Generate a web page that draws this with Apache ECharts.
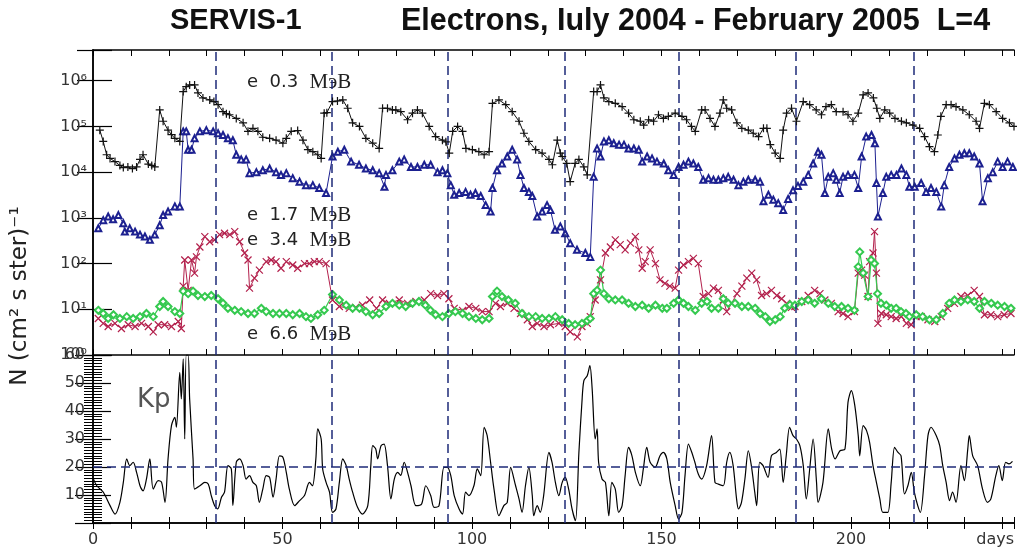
<!DOCTYPE html>
<html><head><meta charset="utf-8">
<script src="https://cdn.jsdelivr.net/npm/echarts/dist/echarts.min.js"></script>
<style>html,body{margin:0;padding:0;background:#fff}#c{width:1017px;height:550px}</style>
</head><body><div id="c"></div>
<script>
// ---- data (day, value) ----
const e03 = [[1.8,8.3e4],[2.7,4.7e4],[3.6,2.4e4],[4.5,2.0e4],[5.8,1.7e4],[7.1,1.4e4],[8.0,1.26e4],[9.2,1.3e4],[10.4,1.2e4],[11.5,1.3e4],[12.4,1.9e4],[13.2,2.4e4],[14.6,1.5e4],[15.5,1.4e4],[16.3,1.3e4],[17.6,2.3e5],[18.5,1.3e5],[19.8,8.3e4],[20.7,6.6e4],[21.6,5.5e4],[22.9,4.7e4],[23.8,5.8e5],[24.6,7.4e5],[25.5,8.1e5],[26.8,8.1e5],[27.7,5.4e5],[29.0,4.2e5],[30.8,3.8e5],[31.9,3.5e5],[33.0,3.0e5],[34.3,2.1e5],[35.2,1.9e5],[36.0,1.8e5],[37.8,1.5e5],[39.6,1.2e5],[40.9,7.8e4],[42.2,9.1e4],[43.5,7.8e4],[44.8,5.8e4],[46.6,5.5e4],[48.3,5.0e4],[50.1,4.3e4],[51.0,5.5e4],[52.3,7.8e4],[54.0,8.1e4],[55.4,5.0e4],[56.7,3.1e4],[58.0,2.8e4],[59.3,2.4e4],[60.2,2.0e4],[61.0,1.95e5],[61.7,2.0e5],[63.2,3.5e5],[64.5,3.6e5],[65.9,3.8e5],[67.2,2.5e5],[68.5,1.2e5],[70.3,1.0e5],[72.0,5.5e4],[73.8,4.3e4],[75.5,3.3e4],[76.4,2.5e5],[77.7,2.5e5],[79.0,2.3e5],[79.9,2.3e5],[81.2,2.1e5],[83.0,1.4e5],[84.3,1.95e5],[85.6,2.3e5],[86.9,1.95e5],[88.7,1.0e5],[90.4,6.0e4],[92.2,5.0e4],[93.1,4.6e4],[94.0,2.6e4],[94.9,7.8e4],[96.2,1.0e5],[97.5,7.8e4],[98.4,3.3e4],[100.1,3.1e4],[101.8,2.8e4],[103.2,2.4e4],[104.5,2.8e4],[105.4,3.2e5],[107.1,3.8e5],[108.9,3.0e5],[110.6,2.1e5],[112.4,1.3e5],[113.7,7.1e4],[115.0,4.7e4],[116.8,3.1e4],[118.5,2.6e4],[120.3,1.9e4],[121.2,1.45e4],[122.5,5.0e4],[123.3,2.6e4],[123.8,2.2e4],[125.0,1.55e4],[125.9,6.2e3],[127.2,1.55e4],[128.2,1.9e4],[129.5,1.3e4],[130.4,8.7e3],[132.1,5.8e5],[133.0,5.8e5],[133.9,8.1e5],[134.8,4.2e5],[136.1,3.5e5],[137.8,3.2e5],[139.6,2.7e5],[141.3,1.95e5],[142.7,1.4e5],[144.4,1.3e5],[145.3,1.07e5],[146.6,1.4e5],[147.9,1.3e5],[149.2,1.8e5],[150.5,1.5e5],[151.8,1.66e5],[153.6,1.95e5],[155.4,1.66e5],[156.6,1.4e5],[157.9,1.0e5],[158.9,7.8e4],[160.6,2.3e5],[161.5,2.3e5],[162.8,1.5e5],[164.1,1.0e5],[165.4,1.95e5],[166.3,3.8e5],[167.2,2.5e5],[168.5,2.3e5],[169.9,1.2e5],[171.2,9.1e4],[172.9,8.3e4],[174.2,7.1e4],[175.6,6.0e4],[176.9,9.1e4],[177.8,9.1e4],[178.7,4.0e4],[180.0,2.6e4],[181.3,2.0e4],[182.1,8.3e4],[183.0,1.95e5],[184.3,2.5e5],[185.6,1.3e5],[187.4,3.5e5],[189.1,3.0e5],[190.8,2.3e5],[192.2,1.8e5],[193.4,2.7e5],[194.8,3.0e5],[196.1,2.1e5],[197.9,2.1e5],[199.2,1.8e5],[200.5,1.3e5],[201.9,1.95e5],[203.2,4.9e5],[204.5,5.4e5],[205.9,4.2e5],[206.8,2.5e5],[207.6,1.5e5],[208.9,2.3e5],[210.2,1.95e5],[211.6,1.5e5],[213.3,1.3e5],[214.6,1.2e5],[216.3,1.07e5],[218.1,9.1e4],[219.4,6.0e4],[220.7,3.6e4],[222.0,2.8e4],[222.9,6.5e4],[223.7,1.66e5],[225.1,3.0e5],[226.4,3.0e5],[227.7,2.7e5],[229.5,2.3e5],[231.2,1.8e5],[233.0,1.3e5],[233.9,9.1e4],[235.2,3.2e5],[236.5,3.0e5],[238.3,2.1e5],[240.0,1.5e5],[241.8,1.2e5],[243.0,1.0e5]];

const e17 = [[1.4,590],[2.7,890],[4.0,1070],[5.3,930],[6.7,1150],[8.0,760],[8.4,500],[9.7,590],[11.1,500],[12.4,430],[13.7,390],[15.0,330],[16.3,430],[17.6,690],[18.5,1150],[19.8,1380],[21.6,1780],[22.9,1780],[23.8,7.8e4],[24.6,7.8e4],[25.1,3.1e4],[26.0,3.1e4],[26.8,5.5e4],[28.2,7.8e4],[29.9,8.3e4],[31.7,7.8e4],[33.0,7.1e4],[34.3,6.5e4],[35.6,5.5e4],[36.9,5.0e4],[37.8,2.4e4],[39.1,1.9e4],[40.4,1.9e4],[41.3,9500],[43.1,1.0e4],[44.8,1.1e4],[46.6,1.2e4],[48.3,1.0e4],[49.6,8700],[51.0,9500],[52.7,7400],[54.5,6200],[56.2,5200],[58.0,5200],[59.7,4500],[61.5,3500],[63.2,2.2e4],[64.6,2.8e4],[66.3,3.1e4],[68.1,1.7e4],[70.2,1.45e4],[72.0,1.2e4],[73.8,1.1e4],[75.5,9500],[76.9,4800],[77.3,8700],[79.0,1.1e4],[80.8,1.7e4],[82.1,1.9e4],[83.9,1.3e4],[85.6,1.3e4],[87.4,1.45e4],[89.1,1.45e4],[90.9,1.0e4],[92.2,1.1e4],[93.5,9500],[94.4,5200],[95.3,3200],[96.6,3500],[98.3,3700],[99.6,3200],[100.9,3500],[102.3,3000],[103.6,1900],[104.9,1380],[105.4,4500],[106.6,1.1e4],[107.9,1.55e4],[109.3,2.2e4],[110.6,3.1e4],[111.9,1.9e4],[112.8,8700],[113.7,4500],[115.0,3700],[115.9,3000],[117.2,1070],[118.5,1380],[119.8,1900],[120.7,1480],[121.9,550],[123.3,650],[124.6,460],[125.9,280],[127.7,200],[129.9,170],[131.2,140],[132.1,7900],[133.0,3.3e4],[133.9,2.2e4],[134.8,4.7e4],[136.1,5.0e4],[137.4,4.3e4],[138.8,4.0e4],[140.1,4.0e4],[141.3,3.3e4],[142.7,3.3e4],[144.0,3.1e4],[144.9,1.7e4],[146.2,2.2e4],[147.5,2.0e4],[148.8,1.7e4],[150.6,1.55e4],[151.8,1.1e4],[153.2,8700],[154.5,1.3e4],[155.8,1.45e4],[157.1,1.7e4],[158.4,1.55e4],[159.7,1.3e4],[161.0,6800],[162.4,7400],[163.7,6800],[165.0,6800],[166.3,7400],[167.6,7900],[169.0,6800],[170.3,5200],[171.6,6200],[172.9,6800],[174.7,6800],[176.0,6200],[176.9,2300],[178.2,3200],[179.5,2500],[180.8,2100],[182.1,1480],[183.4,2600],[184.7,4000],[186.0,5000],[187.4,6200],[188.7,8700],[190.0,1.55e4],[191.3,2.8e4],[192.2,2.4e4],[193.1,3500],[194.0,7900],[195.3,9500],[196.1,6800],[197.0,3500],[197.9,7900],[199.2,8700],[200.9,8700],[201.9,4500],[202.8,2.2e4],[204.0,6.0e4],[205.4,6.5e4],[206.3,4.3e4],[206.7,5800],[207.1,1070],[208.4,3500],[209.3,7900],[210.6,8700],[212.0,8700],[213.3,1.2e4],[214.6,8700],[215.4,4800],[216.8,4800],[218.5,5800],[219.8,3700],[221.1,4500],[222.5,3700],[223.8,1780],[224.6,5200],[225.9,1.3e4],[227.3,2.0e4],[228.6,2.4e4],[229.9,2.6e4],[231.2,2.6e4],[232.5,2.2e4],[233.9,1.55e4],[234.7,2300],[236.1,7400],[237.4,1.0e4],[238.7,1.7e4],[240.0,1.3e4],[241.3,1.7e4],[242.7,1.3e4]];

const e34 = [[1.4,6.3],[2.7,4.9],[4.0,4.2],[5.8,4.9],[7.5,3.8],[9.3,4.6],[11.1,4.2],[12.8,4.9],[14.6,4.2],[15.9,3.2],[17.2,4.6],[18.9,4.6],[20.7,4.2],[22.5,5.4],[23.3,3.8],[23.8,32],[24.2,120],[25.1,26],[26.0,120],[26.8,62],[27.3,140],[28.2,230],[29.5,390],[30.8,300],[32.1,330],[33.4,430],[34.7,460],[36.1,430],[37.4,500],[38.7,300],[40.0,170],[40.9,120],[41.3,29],[42.6,48],[43.9,72],[45.7,110],[47.0,120],[48.3,110],[49.6,79],[51.0,110],[52.7,93],[54.0,79],[55.8,100],[57.1,100],[58.4,110],[59.7,110],[61.5,100],[63.2,16],[65.0,11.5],[67.6,10.5],[69.3,11],[71.1,12.3],[73.0,16],[74.8,10.5],[76.4,16],[78.2,13.5],[80.8,16],[83.0,13.5],[85.2,14.8],[87.4,16],[89.1,22],[90.9,20],[92.6,22],[93.9,17],[95.3,10.5],[97.5,9.5],[99.2,11.5],[101.0,10.5],[102.7,8.9],[104.5,8.9],[106.2,13.5],[107.5,11.5],[109.3,13.5],[111.1,10.5],[112.8,8.1],[114.6,5.9],[115.9,4.2],[117.2,4.9],[119.0,4.2],[120.7,4.6],[122.9,4.9],[124.6,4.2],[125.9,3.2],[127.8,2.5],[129.0,4.2],[130.4,4.9],[131.2,6.9],[132.5,16],[133.9,44],[135.2,170],[136.5,230],[137.8,330],[139.1,260],[140.4,200],[141.8,280],[143.1,390],[144.0,200],[144.9,79],[145.7,110],[147.0,200],[148.4,100],[149.6,44],[150.9,37],[152.2,32],[153.6,29],[154.5,72],[155.8,93],[157.1,110],[158.4,130],[159.7,100],[161.0,19],[162.4,22],[163.7,29],[165.0,26],[166.3,16],[167.2,8.9],[168.5,13.5],[169.9,22],[171.2,32],[172.5,48],[173.8,62],[175.1,44],[176.4,20],[177.7,22],[179.0,26],[180.4,20],[181.7,17],[183.0,13.5],[184.3,11],[185.2,11.5],[187.0,14.8],[188.7,20],[190.4,26],[191.8,22],[193.1,16],[194.8,13.5],[196.6,8.9],[197.9,8.1],[199.2,6.9],[200.9,8.9],[201.9,62],[202.8,72],[203.6,56],[204.5,19],[204.9,110],[205.8,170],[206.2,500],[206.7,62],[207.1,4.9],[208.0,8.1],[209.3,7.6],[210.6,6.9],[211.9,6.3],[213.3,6.9],[214.6,4.9],[215.9,4.6],[217.2,6.9],[218.5,6.9],[220.3,5.9],[222.1,5.4],[223.8,6.9],[225.5,10.5],[227.3,13.5],[229.0,19],[230.8,20],[232.5,26],[233.9,19],[235.2,7.6],[236.9,7.6],[238.7,6.9],[240.4,7.6],[242.2,8.1]];

const e66 = [[1.4,9.5],[2.7,8.1],[4.0,6.3],[5.4,7.6],[7.1,6.3],[8.9,6.9],[10.6,6.3],[12.4,6.9],[14.1,8.1],[15.9,6.9],[17.6,11.5],[18.5,14.8],[19.8,11.5],[21.6,8.9],[22.9,8.1],[23.8,25],[25.1,22],[26.4,25],[27.7,20],[29.5,19],[31.2,20],[33.0,17],[34.3,13.5],[35.6,10.5],[37.4,9.5],[39.1,8.9],[40.9,8.1],[42.6,8.1],[44.4,10.5],[45.7,8.9],[47.5,8.1],[49.2,8.1],[51.0,8.1],[52.7,7.6],[54.5,8.1],[56.2,6.9],[57.5,6.3],[59.3,7.6],[61.0,9.5],[63.2,21],[65.0,16],[66.8,12.3],[68.5,10.5],[70.3,10.5],[72.0,8.9],[73.8,7.6],[75.5,8.1],[77.3,11.5],[79.0,13.5],[80.8,12.3],[82.5,11.5],[84.3,13.5],[86.0,14.8],[87.7,12.3],[89.0,9.5],[90.4,7.6],[92.2,6.9],[93.9,8.1],[95.6,8.9],[97.5,8.1],[99.2,6.9],[101.0,6.3],[102.7,5.9],[104.5,6.3],[105.4,19],[106.6,25],[107.9,19],[109.6,16],[111.4,13.5],[113.2,8.1],[115.0,6.9],[116.8,6.9],[118.5,6.3],[120.3,6.3],[122.0,6.9],[123.8,5.9],[125.5,4.9],[127.2,4.6],[129.0,4.9],[130.4,5.6],[131.2,6.3],[132.1,22],[133.0,26],[133.9,72],[134.8,22],[136.1,17],[137.8,16],[139.6,16],[141.3,13.5],[143.1,11.5],[144.9,12.3],[146.6,10.5],[148.4,12.3],[150.2,10.5],[151.4,10.5],[153.2,13.5],[154.5,16],[155.8,13.5],[157.1,11.5],[158.9,9.5],[160.6,13.5],[162.0,14.8],[163.2,10.5],[165.0,10.5],[166.3,17],[167.6,13.5],[169.4,13.5],[171.2,11.5],[172.9,11.5],[174.7,10.5],[176.0,8.1],[177.4,6.9],[178.6,5.4],[180.0,5.9],[181.3,6.9],[182.5,10.5],[183.9,12.6],[185.2,12.3],[187.0,14.8],[188.7,16],[190.4,13.5],[192.2,17],[194.0,13.5],[195.7,11.5],[197.5,11.5],[199.2,10.5],[200.9,9.5],[201.9,85],[202.3,180],[203.2,62],[204.5,19],[205.3,120],[206.2,100],[207.0,22],[207.9,13.5],[209.3,12.3],[210.6,10.5],[211.9,10.5],[213.2,8.9],[214.5,8.1],[215.4,6.9],[217.2,7.6],[218.9,6.9],[220.7,5.9],[222.5,5.9],[224.2,8.1],[225.9,13.5],[227.3,16],[229.0,14.8],[230.8,16],[232.5,14.8],[233.9,10.5],[235.2,14.8],[237.0,13.5],[238.7,12.3],[240.5,11.5],[242.2,10.5]];

const kp = [[0.1,15.7],[1.0,13.3],[2.7,11],[4.5,6.2],[5.8,3.2],[7.1,7.4],[8.0,14.5],[8.9,22.9],[9.7,20.5],[10.6,21.7],[11.5,18.1],[12.4,13.3],[13.2,11.5],[14.1,15.7],[15.0,22.9],[15.9,12.1],[17.2,15.1],[18.1,14.5],[19.0,7.4],[19.8,22.9],[20.7,34.8],[21.6,37.7],[22.0,34.2],[22.9,53.8],[23.3,44.3],[23.8,58.6],[24.2,30],[24.6,60],[25.1,60],[25.5,44.3],[26.4,22.9],[26.8,12.1],[28.2,13.3],[29.5,14.5],[30.4,13.9],[31.2,9.8],[32.1,6.2],[32.9,5],[33.9,9.2],[34.7,11],[35.6,20.5],[36.5,19.3],[36.9,6.2],[37.8,21.7],[38.7,22.9],[39.6,20.5],[40.4,15.7],[41.3,16.9],[42.2,14.5],[43.1,13.3],[43.9,7.4],[44.8,12.1],[45.7,16.9],[46.6,16.3],[47.5,9.2],[48.3,15.7],[49.2,24],[50.1,23.5],[51.0,18.1],[51.8,12.1],[53.2,6.2],[54.5,8],[55.8,9.8],[57.1,14.5],[57.9,13.3],[58.8,22.9],[59.3,33.6],[60.2,30],[60.6,19.3],[61.5,14.5],[62.4,11],[63.2,3.8],[64.1,5],[65.0,14.5],[65.9,22.9],[66.8,20.5],[67.6,15.7],[68.5,11],[69.8,5.6],[71.1,3.2],[72.5,6.2],[73.3,20.5],[73.8,27.6],[74.6,26.4],[75.1,22.9],[76.0,27.6],[76.8,28.2],[77.7,20.5],[78.6,8.6],[79.5,15.7],[80.4,18.1],[81.2,17],[82.1,21.7],[83.0,18.1],[83.9,13.3],[85.2,6.2],[86.7,6.8],[87.8,13.3],[89.1,9.8],[90.0,5.6],[91.3,6.2],[92.6,19.9],[93.5,19.9],[94.4,16.9],[95.3,9.8],[96.6,5],[97.5,3.2],[98.3,11],[99.2,9.8],[100.5,13.3],[101.4,19.3],[102.3,16.9],[103.2,34.2],[104.0,31.2],[104.9,21.7],[105.8,12.1],[107.1,2.6],[108.4,6.2],[109.3,7.4],[110.2,19.9],[111.5,13.3],[112.4,8.6],[113.2,3.8],[114.1,13.3],[115.0,19.9],[115.9,9.8],[116.3,2.6],[117.2,6.2],[118.0,3.8],[118.9,9.8],[120.3,25.2],[121.1,21.7],[122.0,14.5],[122.9,9.8],[123.8,14.5],[124.6,16.3],[125.5,12.1],[126.4,5],[127.3,0.8],[128.2,25.2],[129.0,43.1],[129.5,50.8],[130.4,52.6],[131.1,56.2],[131.7,47.9],[132.5,30],[133.0,33.6],[133.4,21.7],[134.3,15.7],[135.2,14.5],[136.1,2.6],[136.9,14.5],[137.8,12.1],[138.7,3.8],[139.6,6.2],[140.4,16.9],[141.3,27],[142.2,24],[143.1,18.1],[144.4,13.3],[145.2,19.3],[146.1,27],[147.0,21.7],[148.3,19.9],[149.6,24],[150.5,25.2],[151.4,22.9],[152.3,14.5],[153.6,6.2],[154.5,1.4],[155.4,3.8],[156.2,16.9],[157.1,28.2],[158.0,25.2],[158.8,21.7],[159.7,17.5],[160.6,15.7],[161.9,20.5],[163.2,31.2],[164.1,14.5],[165.0,13.9],[166.3,13.3],[167.2,21.7],[168.0,25.2],[168.9,20.5],[169.8,8.6],[170.3,5],[171.1,7.4],[172.0,15.7],[172.9,25.8],[173.7,20.5],[174.6,11],[175.1,6.2],[175.9,21.7],[176.8,20.5],[178.1,16.3],[179.0,24],[180.3,25.2],[181.2,26.4],[182.1,14.5],[182.9,24],[183.8,34.2],[184.7,31.2],[185.6,30],[186.5,27.6],[187.4,20.5],[188.2,8.6],[189.1,19.3],[190.0,30],[190.9,14.5],[191.3,7.4],[192.6,14.5],[194.0,33.6],[194.9,26.4],[195.8,22.9],[197.1,25.8],[198.4,26.4],[199.2,43.1],[200.1,47.3],[201.0,41.9],[201.9,31.2],[202.3,24],[203.2,34.8],[204.1,33],[204.9,28.8],[205.8,20.5],[206.7,14.5],[207.6,8.6],[208.4,3.8],[209.7,3.8],[210.6,14.5],[211.5,27],[212.4,25.2],[213.2,24],[214.1,10.4],[215.0,13.3],[215.9,18.1],[216.7,11],[217.6,6.2],[218.3,3.8],[219.4,16.9],[220.3,31.2],[221.1,34.2],[222.5,31.2],[223.4,27.6],[224.2,20.5],[225.1,14.5],[226.0,8],[226.8,11],[227.7,7.4],[229.0,20.5],[229.9,15.1],[230.8,26.4],[231.2,31.2],[232.1,24],[233.4,20.5],[234.7,12.1],[236.0,7.4],[236.9,8.6],[238.2,16.9],[239.0,20.5],[239.9,15.1],[240.8,21.7],[241.7,21.1],[242.6,22]];

const monthBoundaries = [32.5, 63, 93.5, 124.5, 154.5, 185.5, 216.5];
const kpLevel = 20;
const xLabelDays = [0, 50, 100, 150, 200];
const kpTickLabels = [10, 20, 30, 40, 50, 60];
const supDigits = ['⁰','¹','²','³','⁴','⁵','⁶','⁷'];

const chart = echarts.init(document.getElementById('c'), null, {renderer: 'canvas'});
const LBL = {color: '#333', fontFamily: 'DejaVu Sans', fontSize: 16};
const frame = {show: true, lineStyle: {color: '#000', width: 1.5}};
const dash = {type: [9, 5], color: '#1e2a78', width: 1.5};

function xAx(grid, pos, labels) {
  return {
    type: 'value', gridIndex: grid, position: pos, min: 0, max: 243, interval: 10,
    axisLine: frame, splitLine: {show: false},
    axisTick: {show: true, inside: true, length: 6, lineStyle: {color: '#000', width: 1}},
    axisLabel: labels ? Object.assign({show: true, margin: 9,
      formatter: v => xLabelDays.indexOf(v) >= 0 ? String(v) : ''}, LBL) : {show: false}
  };
}
function logAx(pos, labels) {
  return {
    type: 'log', logBase: 10, gridIndex: 0, position: pos, min: 1, max: 4.7e6,
    axisLine: frame, splitLine: {show: false}, minorTick: {show: false},
    axisTick: {show: true, inside: true, length: pos === 'left' ? 19 : 16, lineStyle: {color: '#000', width: 1.2}},
    axisLabel: labels ? Object.assign({show: true, margin: 6, formatter: v => {
      const l = Math.log10(v), n = Math.round(l);
      if (Math.abs(l - n) > 0.01) return '';
      return '10' + supDigits[n];
    }}, LBL) : {show: false}
  };
}
function kpAx(pos, labels) {
  return {
    type: 'value', gridIndex: 1, position: pos, min: 0, max: 60, interval: 10,
    axisLine: frame, splitLine: {show: false},
    axisTick: {show: true, inside: true, length: 18, lineStyle: {color: '#000', width: 1.2}},
    minorTick: {show: true, splitNumber: 10, length: 9, lineStyle: {color: '#000', width: 1}},
    minorSplitLine: {show: false},
    axisLabel: labels ? Object.assign({show: true, margin: 8,
      formatter: v => kpTickLabels.indexOf(v) >= 0 ? String(v) : ''}, LBL) : {show: false}
  };
}
function pathSym(d) { return 'path://' + d; }

const mlV = {silent: true, symbol: 'none', label: {show: false}, lineStyle: dash, animation: false,
  data: monthBoundaries.map(d => ({xAxis: d}))};
const richLbl = {a: {fontFamily: 'DejaVu Sans', fontSize: 18, fill: '#222'}, m: {fontFamily: 'Liberation Serif', fontSize: 21, fill: '#222'}};

const option = {
  animation: false,
  backgroundColor: '#fff',
  grid: [
    {left: 93, right: 3, top: 50, height: 305},
    {left: 93, right: 3, top: 355, height: 168}
  ],
  xAxis: [xAx(0, 'bottom', false), xAx(0, 'top', false), xAx(1, 'bottom', true), xAx(1, 'top', false)],
  yAxis: [logAx('left', true), logAx('right', false), kpAx('left', true), kpAx('right', false)],
  series: [
    {name: 'e 0.3', type: 'line', xAxisIndex: 0, yAxisIndex: 0, data: e03,
     symbol: pathSym('M5,0L5,10M0,5L10,5'), symbolSize: 8,
     lineStyle: {color: '#111', width: 1}, itemStyle: {color: 'rgba(0,0,0,0)', borderColor: '#111', borderWidth: 1.2},
     markLine: mlV, z: 5},
    {name: 'e 1.7', type: 'line', xAxisIndex: 0, yAxisIndex: 0, data: e17,
     symbol: 'emptyTriangle', symbolSize: 6,
     lineStyle: {color: '#1c2090', width: 1}, itemStyle: {color: '#1c2090', borderWidth: 1.2}, z: 4},
    {name: 'e 3.4', type: 'line', xAxisIndex: 0, yAxisIndex: 0, data: e34,
     symbol: pathSym('M0,0L10,10M10,0L0,10'), symbolSize: 7,
     lineStyle: {color: '#b3204c', width: 1}, itemStyle: {color: 'rgba(0,0,0,0)', borderColor: '#b3204c', borderWidth: 1.2}, z: 3},
    {name: 'e 6.6', type: 'line', xAxisIndex: 0, yAxisIndex: 0, data: e66,
     symbol: 'emptyDiamond', symbolSize: 7,
     lineStyle: {color: '#35c94f', width: 1.2}, itemStyle: {color: '#35c94f', borderWidth: 1.2}, z: 3},
    {name: 'Kp', type: 'line', xAxisIndex: 2, yAxisIndex: 2, data: kp, showSymbol: false, symbol: 'none',
     smooth: 0.3, clip: true, lineStyle: {color: '#000', width: 1.2},
     markLine: {silent: true, symbol: 'none', label: {show: false}, lineStyle: dash, animation: false,
       data: monthBoundaries.map(d => ({xAxis: d})).concat([{yAxis: kpLevel}])}}
  ],
  graphic: [
    {type: 'text', left: 170, top: 6, style: {text: 'SERVIS-1', font: 'bold 29px "Liberation Sans"', fill: '#111'}},
    {type: 'text', left: 401, top: 6, style: {text: 'Electrons, Iuly 2004 - February 2005  L=4', font: 'bold 30.5px "Liberation Sans"', fill: '#111'}},
    {type: 'text', x: 20, y: 296, rotation: Math.PI / 2,
     style: {text: 'N (cm² s ster)⁻¹', font: '23px "DejaVu Sans"', fill: '#222', textAlign: 'center', textVerticalAlign: 'middle'}},
    {type: 'text', x: 247, y: 82, style: {text: '{a|e  0.3  }{m|МэВ}', textVerticalAlign: 'middle', rich: richLbl}},
    {type: 'text', x: 247, y: 215, style: {text: '{a|e  1.7  }{m|МэВ}', textVerticalAlign: 'middle', rich: richLbl}},
    {type: 'text', x: 247, y: 240, style: {text: '{a|e  3.4  }{m|МэВ}', textVerticalAlign: 'middle', rich: richLbl}},
    {type: 'text', x: 247, y: 334, style: {text: '{a|e  6.6  }{m|МэВ}', textVerticalAlign: 'middle', rich: richLbl}},
    {type: 'text', x: 137, y: 400, style: {text: 'Kp', font: '26px "DejaVu Sans"', fill: '#555', textVerticalAlign: 'middle'}},
    {type: 'text', x: 1014, y: 540, style: {text: 'days', font: '16px "DejaVu Sans"', fill: '#333', textAlign: 'right', textVerticalAlign: 'middle'}}
  ]
};
chart.setOption(option);
</script></body></html>
